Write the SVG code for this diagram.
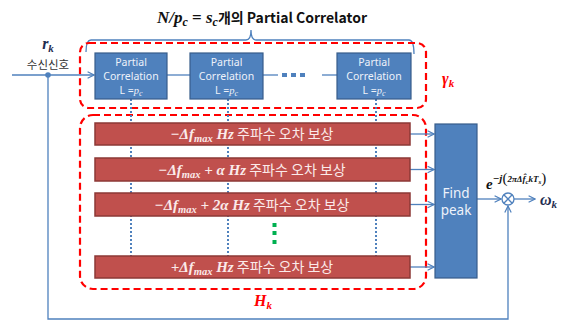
<svg xmlns="http://www.w3.org/2000/svg" width="561" height="322" viewBox="0 0 561 322">
<style>
.bb{fill:#4f81bd;stroke:#385d8a;stroke-width:1.2}
.rb{fill:#c0504d;stroke:#8c3836;stroke-width:1.5}
.bt{font-family:"Noto Sans","Open Sans",sans-serif;font-size:10.5px;fill:#eef2fa;text-anchor:middle}
.rt{font-family:"Liberation Serif","Noto Sans CJK KR",serif;font-size:15px;fill:#fbeaea;text-anchor:middle}
.k{font-family:"Noto Sans CJK KR",sans-serif;font-style:normal;font-weight:normal;font-size:14px}
.m{font-weight:bold;font-style:italic}
.ln{fill:none;stroke:#4f81bd;stroke-width:1.3}
.dot{fill:none;stroke:#4f81bd;stroke-width:2;stroke-dasharray:2 2}
.rd{fill:none;stroke:#ff0000;stroke-width:2.2;stroke-dasharray:7 4}
.red{font-family:"Liberation Serif",serif;font-weight:bold;font-style:italic;fill:#ff0000;font-size:16px}
</style>
<defs>
<marker id="ar" viewBox="0 0 10 10" refX="9" refY="5" markerWidth="8" markerHeight="8" markerUnits="userSpaceOnUse" orient="auto">
<path d="M1,1 L9,5 L1,9" fill="none" stroke="#4f81bd" stroke-width="1.5"/>
</marker>
</defs>

<!-- title -->
<text x="262" y="23" text-anchor="middle" style="font-family:'Liberation Serif',serif;font-size:17px;font-weight:bold;font-style:italic" fill="#111">N/p<tspan font-size="12" dy="3">c</tspan><tspan dy="-3" font-style="normal"> = </tspan>s<tspan font-size="12" dy="3">c</tspan><tspan dy="-3" style="font-family:'Noto Sans CJK KR',sans-serif;font-style:normal;font-size:14px">개의 Partial Correlator</tspan></text>

<!-- brace -->
<path class="ln" d="M86,52 Q86,40 91,40 L246,40 Q251,40 251,30 Q251,40 256,40 L409,40 Q414,40 414,54" stroke-width="1"/>

<!-- dashed groups -->
<rect class="rd" x="80" y="43" width="346" height="65" rx="9"/>
<rect class="rd" x="80" y="115" width="346" height="174" rx="13"/>
<text class="red" x="442" y="84">γ<tspan font-size="11" dy="3">k</tspan></text>
<text class="red" x="254" y="306">H<tspan font-size="11" dy="3">k</tspan></text>

<g id="connectors">
<line class="dot" x1="131" y1="99" x2="131" y2="256"/>
<line class="dot" x1="228" y1="99" x2="228" y2="256"/>
<line class="dot" x1="376" y1="99" x2="376" y2="256"/>
<line class="ln" x1="12" y1="75" x2="94" y2="75" marker-end="url(#ar)"/>
<circle cx="48" cy="75" r="2.8" fill="#4f81bd"/>
<line class="ln" x1="167" y1="75" x2="190" y2="75"/>
<line class="ln" x1="263" y1="75" x2="278" y2="75"/>
<g fill="#4f81bd"><rect x="282" y="73" width="5" height="4"/><rect x="291" y="73" width="5" height="4"/><rect x="300" y="73" width="5" height="4"/></g>
<line class="ln" x1="322" y1="75" x2="337" y2="75"/>
<line class="ln" x1="410" y1="134" x2="434" y2="134" marker-end="url(#ar)"/>
<line class="ln" x1="410" y1="169.5" x2="434" y2="169.5" marker-end="url(#ar)"/>
<line class="ln" x1="410" y1="204.5" x2="434" y2="204.5" marker-end="url(#ar)"/>
<line class="ln" x1="410" y1="267" x2="434" y2="267" marker-end="url(#ar)"/>
<line class="ln" x1="477" y1="199" x2="501" y2="199" marker-end="url(#ar)"/>
<line class="ln" x1="514" y1="199" x2="535" y2="199" marker-end="url(#ar)"/>
<path class="ln" d="M48,75 L48,319 L508,319 L508,206" marker-end="url(#ar)"/>
<circle cx="508" cy="199" r="6" fill="#fff" stroke="#4f81bd" stroke-width="1.3"/>
<path d="M503.8,194.8 L512.2,203.2 M512.2,194.8 L503.8,203.2" stroke="#4f81bd" stroke-width="1.3"/>
</g>

<!-- input labels -->
<text x="48" y="49" text-anchor="middle" style="font-family:'Liberation Serif',serif;font-size:16px;font-style:italic;font-weight:bold" fill="#1f2d50">r<tspan font-size="11" dy="3">k</tspan></text>
<text x="48" y="69" text-anchor="middle" style="font-family:'Noto Sans CJK KR',sans-serif;font-size:11.5px" fill="#333">수신신호</text>

<g id="pc1"><rect class="bb" x="95" y="53" width="72" height="46"/>
<text class="bt" x="131" y="66">Partial</text><text class="bt" x="131" y="80">Correlation</text><text class="bt" x="131" y="94">L =<tspan font-family="Liberation Serif" font-style="italic">p<tspan font-size="8" dy="2">c</tspan></tspan></text></g>
<g id="pc2"><rect class="bb" x="190" y="53" width="73" height="46"/>
<text class="bt" x="226.5" y="66">Partial</text><text class="bt" x="226.5" y="80">Correlation</text><text class="bt" x="226.5" y="94">L =<tspan font-family="Liberation Serif" font-style="italic">p<tspan font-size="8" dy="2">c</tspan></tspan></text></g>
<g id="pc3"><rect class="bb" x="337" y="53" width="74" height="46"/>
<text class="bt" x="374" y="66">Partial</text><text class="bt" x="374" y="80">Correlation</text><text class="bt" x="374" y="94">L =<tspan font-family="Liberation Serif" font-style="italic">p<tspan font-size="8" dy="2">c</tspan></tspan></text></g>

<g id="f1"><rect class="rb" x="95" y="123" width="315" height="22"/>
<text class="rt" x="252" y="139"><tspan class="m">−Δf</tspan><tspan class="m" font-size="10.5" dy="3">max</tspan><tspan class="m" dy="-3"> Hz</tspan><tspan class="k">  주파수 오차 보상</tspan></text></g>
<g id="f2"><rect class="rb" x="95" y="158" width="315" height="23"/>
<text class="rt" x="252" y="175"><tspan class="m">−Δf</tspan><tspan class="m" font-size="10.5" dy="3">max</tspan><tspan class="m" dy="-3"> + α Hz</tspan><tspan class="k"> 주파수 오차 보상</tspan></text></g>
<g id="f3"><rect class="rb" x="95" y="193" width="315" height="23"/>
<text class="rt" x="252" y="210"><tspan class="m">−Δf</tspan><tspan class="m" font-size="10.5" dy="3">max</tspan><tspan class="m" dy="-3"> + 2α Hz</tspan><tspan class="k"> 주파수 오차 보상</tspan></text></g>
<g id="f4"><rect class="rb" x="95" y="256" width="315" height="22"/>
<text class="rt" x="252" y="272"><tspan class="m">+Δf</tspan><tspan class="m" font-size="10.5" dy="3">max</tspan><tspan class="m" dy="-3"> Hz</tspan><tspan class="k">  주파수 오차 보상</tspan></text></g>

<g fill="#00b050"><rect x="272.5" y="223" width="4" height="4"/><rect x="272.5" y="231" width="4" height="4"/><rect x="272.5" y="240" width="4" height="4"/></g>

<g id="findpeak"><rect class="bb" x="435" y="124" width="42" height="154"/>
<text x="456" y="198" text-anchor="middle" style="font-family:'Noto Sans','Open Sans',sans-serif;font-size:13.5px" fill="#eef2fa">Find</text>
<text x="456" y="215" text-anchor="middle" style="font-family:'Noto Sans','Open Sans',sans-serif;font-size:13.5px" fill="#eef2fa">peak</text></g>

<text x="486" y="189" style="font-family:'Liberation Serif',serif;font-weight:bold;font-style:italic;font-size:15px" fill="#111">e<tspan font-size="11" dy="-7">−j</tspan><tspan font-size="15" font-style="normal" font-weight="normal" dy="1">(</tspan><tspan font-size="9" dy="-1">2πΔ</tspan><tspan font-size="9">f̂</tspan><tspan font-size="7" dy="2">c</tspan><tspan font-size="9" dy="-2">kT</tspan><tspan font-size="7" dy="2">s</tspan><tspan font-size="15" font-style="normal" font-weight="normal" dy="-1">)</tspan></text>
<text x="540" y="205" style="font-family:'Liberation Serif',serif;font-weight:bold;font-style:italic;font-size:16px" fill="#1f2d50">ω<tspan font-size="11" dy="3">k</tspan></text>
</svg>
